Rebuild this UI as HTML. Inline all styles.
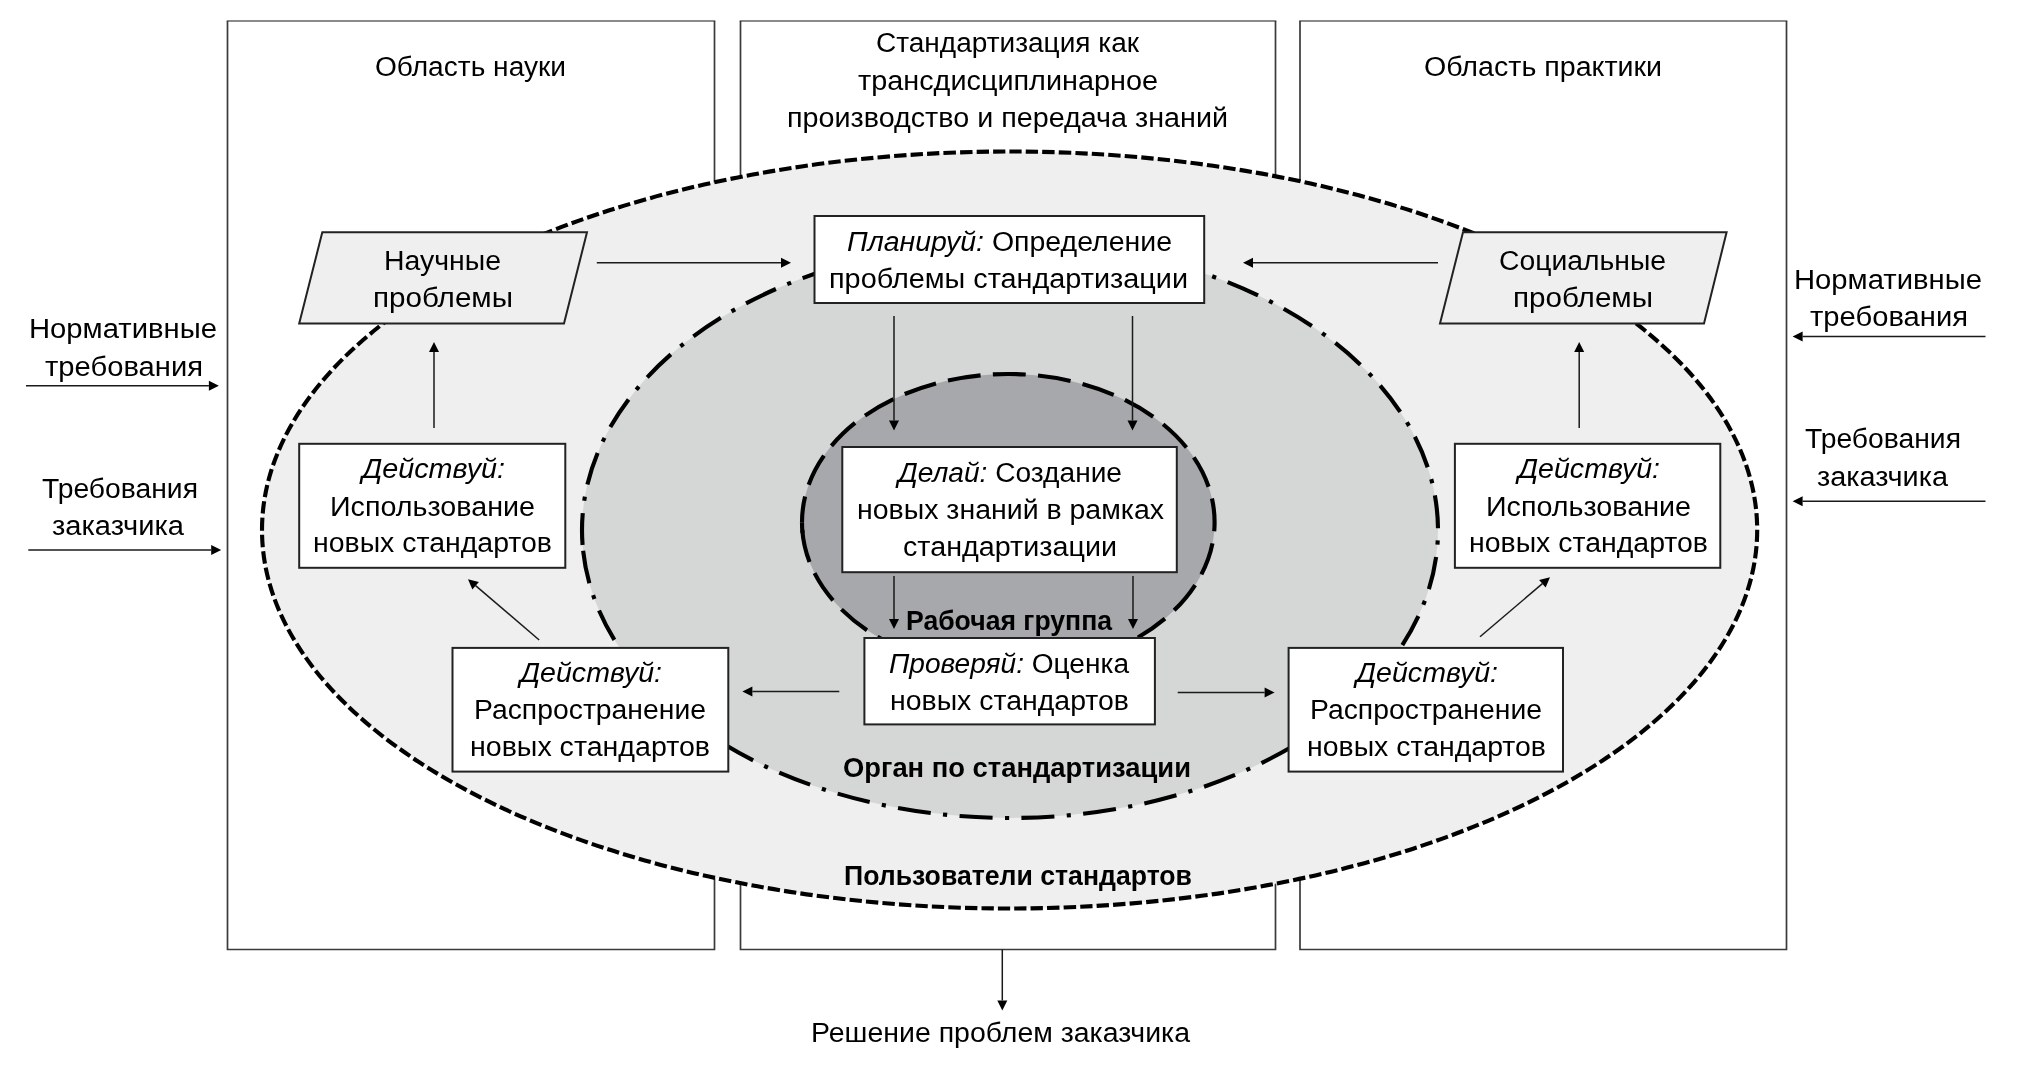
<!DOCTYPE html>
<html><head><meta charset="utf-8"><style>
html,body{margin:0;padding:0;background:#fff;}
svg{display:block;will-change:transform;}
text{font-family:"Liberation Sans",sans-serif;font-size:27px;fill:#000;}
</style></head><body>
<svg width="2017" height="1075" viewBox="0 0 2017 1075">
<rect width="2017" height="1075" fill="#fff"/>
<line x1="226.7" y1="21" x2="715.3" y2="21" stroke="#8a8a8a" stroke-width="2"/>
<path d="M227.5,21 V949.5 H714.5 V21" fill="none" stroke="#3a3a3a" stroke-width="1.7"/>
<line x1="739.7" y1="21" x2="1276.3" y2="21" stroke="#8a8a8a" stroke-width="2"/>
<path d="M740.5,21 V949.5 H1275.5 V21" fill="none" stroke="#3a3a3a" stroke-width="1.7"/>
<line x1="1299.2" y1="21" x2="1787.3" y2="21" stroke="#8a8a8a" stroke-width="2"/>
<path d="M1300,21 V949.5 H1786.5 V21" fill="none" stroke="#3a3a3a" stroke-width="1.7"/>
<path d="M262.00,530.00 A747.60,378.50 0 0 1 1757.20,530.00 A747.60,378.50 0 0 1 262.00,530.00 Z" fill="#efefef" stroke="#000" stroke-width="4.13" stroke-dasharray="12.38 4.13"/>
<path d="M582.00,530.00 A428.00,288.00 0 0 1 1438.00,530.00 A428.00,288.00 0 0 1 582.00,530.00 Z" fill="#d5d6d6"/>
<path d="M582,530 A428,288 0 0 1 1438,530 A428,288 0 0 1 582.581,545.0" fill="none" stroke="#000" stroke-width="4.13" stroke-dasharray="33.07 12.4 4.13 12.4" stroke-dashoffset="16"/>
<path d="M582.581,545.0 A428,288 0 0 1 582,530" fill="none" stroke="#000" stroke-width="4.13"/>
<path d="M802.00,522.20 A206.30,148.20 0 0 1 1214.60,522.20 A206.30,148.20 0 0 1 802.00,522.20 Z" fill="#a7a8ac" stroke="#000" stroke-width="4.13" stroke-dasharray="32.95 12.35" stroke-dashoffset="7.1"/>
<path d="M802.549,533.0 A206.3,148.2 0 0 1 802.0,522.2" fill="none" stroke="#000" stroke-width="4.13"/>
<polygon points="322.3,232.3 587,232.3 564,323.4 299.2,323.4" fill="#efefef" stroke="#222" stroke-width="2"/>
<polygon points="1463,232.3 1726.6,232.3 1704,323.4 1440,323.4" fill="#efefef" stroke="#222" stroke-width="2"/>
<rect x="814.5" y="216" width="389.70" height="87.00" fill="#fff" stroke="#222" stroke-width="2"/>
<rect x="842.3" y="447" width="334.50" height="125.20" fill="#fff" stroke="#222" stroke-width="2"/>
<rect x="864.4" y="638" width="290.50" height="86.40" fill="#fff" stroke="#222" stroke-width="2"/>
<rect x="299.2" y="443.8" width="266.10" height="124.00" fill="#fff" stroke="#222" stroke-width="2"/>
<rect x="452.5" y="647.9" width="275.80" height="123.70" fill="#fff" stroke="#222" stroke-width="2"/>
<rect x="1454.9" y="443.8" width="265.40" height="124.00" fill="#fff" stroke="#222" stroke-width="2"/>
<rect x="1288.6" y="647.9" width="274.40" height="123.70" fill="#fff" stroke="#222" stroke-width="2"/>
<line x1="596.80" y1="262.80" x2="781.00" y2="262.80" stroke="#1a1a1a" stroke-width="1.5"/><polygon points="791.00,262.80 781.00,267.80 781.00,257.80" fill="#000"/>
<line x1="1438.00" y1="262.80" x2="1253.00" y2="262.80" stroke="#1a1a1a" stroke-width="1.5"/><polygon points="1243.00,262.80 1253.00,257.80 1253.00,267.80" fill="#000"/>
<line x1="894.00" y1="316.00" x2="894.00" y2="420.40" stroke="#1a1a1a" stroke-width="1.5"/><polygon points="894.00,430.40 889.00,420.40 899.00,420.40" fill="#000"/>
<line x1="1132.50" y1="316.00" x2="1132.50" y2="420.40" stroke="#1a1a1a" stroke-width="1.5"/><polygon points="1132.50,430.40 1127.50,420.40 1137.50,420.40" fill="#000"/>
<line x1="894.00" y1="576.00" x2="894.00" y2="619.00" stroke="#1a1a1a" stroke-width="1.5"/><polygon points="894.00,629.00 889.00,619.00 899.00,619.00" fill="#000"/>
<line x1="1133.00" y1="576.00" x2="1133.00" y2="619.00" stroke="#1a1a1a" stroke-width="1.5"/><polygon points="1133.00,629.00 1128.00,619.00 1138.00,619.00" fill="#000"/>
<line x1="839.30" y1="691.50" x2="752.40" y2="691.50" stroke="#1a1a1a" stroke-width="1.5"/><polygon points="742.40,691.50 752.40,686.50 752.40,696.50" fill="#000"/>
<line x1="1177.70" y1="692.50" x2="1264.60" y2="692.50" stroke="#1a1a1a" stroke-width="1.5"/><polygon points="1274.60,692.50 1264.60,697.50 1264.60,687.50" fill="#000"/>
<line x1="539.20" y1="640.00" x2="475.60" y2="585.69" stroke="#1a1a1a" stroke-width="1.5"/><polygon points="468.00,579.20 478.85,581.89 472.36,589.50" fill="#000"/>
<line x1="434.00" y1="428.00" x2="434.00" y2="352.00" stroke="#1a1a1a" stroke-width="1.5"/><polygon points="434.00,342.00 439.00,352.00 429.00,352.00" fill="#000"/>
<line x1="1480.00" y1="636.80" x2="1542.39" y2="583.68" stroke="#1a1a1a" stroke-width="1.5"/><polygon points="1550.00,577.20 1545.63,587.49 1539.14,579.88" fill="#000"/>
<line x1="1579.20" y1="428.00" x2="1579.20" y2="352.00" stroke="#1a1a1a" stroke-width="1.5"/><polygon points="1579.20,342.00 1584.20,352.00 1574.20,352.00" fill="#000"/>
<line x1="26.00" y1="385.70" x2="208.90" y2="385.70" stroke="#1a1a1a" stroke-width="1.5"/><polygon points="218.90,385.70 208.90,390.70 208.90,380.70" fill="#000"/>
<line x1="28.30" y1="549.90" x2="211.20" y2="549.90" stroke="#1a1a1a" stroke-width="1.5"/><polygon points="221.20,549.90 211.20,554.90 211.20,544.90" fill="#000"/>
<line x1="1985.50" y1="336.40" x2="1802.60" y2="336.40" stroke="#1a1a1a" stroke-width="1.5"/><polygon points="1792.60,336.40 1802.60,331.40 1802.60,341.40" fill="#000"/>
<line x1="1985.50" y1="501.30" x2="1802.60" y2="501.30" stroke="#1a1a1a" stroke-width="1.5"/><polygon points="1792.60,501.30 1802.60,496.30 1802.60,506.30" fill="#000"/>
<line x1="1002.30" y1="949.50" x2="1002.30" y2="1000.40" stroke="#1a1a1a" stroke-width="1.5"/><polygon points="1002.30,1010.40 997.30,1000.40 1007.30,1000.40" fill="#000"/>
<text x="375.00" y="75.70" textLength="191.00" lengthAdjust="spacingAndGlyphs"><tspan>Область науки</tspan></text>
<text x="876.00" y="52.40" textLength="263.00" lengthAdjust="spacingAndGlyphs"><tspan>Стандартизация как</tspan></text>
<text x="858.00" y="90.00" textLength="300.00" lengthAdjust="spacingAndGlyphs"><tspan>трансдисциплинарное</tspan></text>
<text x="787.00" y="127.00" textLength="441.00" lengthAdjust="spacingAndGlyphs"><tspan>производство и передача знаний</tspan></text>
<text x="1424.00" y="75.70" textLength="238.00" lengthAdjust="spacingAndGlyphs"><tspan>Область практики</tspan></text>
<text x="29.00" y="338.00" textLength="188.00" lengthAdjust="spacingAndGlyphs"><tspan>Нормативные</tspan></text>
<text x="45.00" y="375.50" textLength="158.00" lengthAdjust="spacingAndGlyphs"><tspan>требования</tspan></text>
<text x="42.00" y="498.30" textLength="156.00" lengthAdjust="spacingAndGlyphs"><tspan>Требования</tspan></text>
<text x="52.00" y="535.20" textLength="132.00" lengthAdjust="spacingAndGlyphs"><tspan>заказчика</tspan></text>
<text x="1794.00" y="289.00" textLength="188.00" lengthAdjust="spacingAndGlyphs"><tspan>Нормативные</tspan></text>
<text x="1810.00" y="326.10" textLength="158.00" lengthAdjust="spacingAndGlyphs"><tspan>требования</tspan></text>
<text x="1805.00" y="448.40" textLength="156.00" lengthAdjust="spacingAndGlyphs"><tspan>Требования</tspan></text>
<text x="1817.00" y="485.50" textLength="131.00" lengthAdjust="spacingAndGlyphs"><tspan>заказчика</tspan></text>
<text x="384.00" y="269.70" textLength="117.00" lengthAdjust="spacingAndGlyphs"><tspan>Научные</tspan></text>
<text x="373.00" y="306.50" textLength="140.00" lengthAdjust="spacingAndGlyphs"><tspan>проблемы</tspan></text>
<text x="1499.00" y="269.70" textLength="167.00" lengthAdjust="spacingAndGlyphs"><tspan>Социальные</tspan></text>
<text x="1513.00" y="306.50" textLength="140.00" lengthAdjust="spacingAndGlyphs"><tspan>проблемы</tspan></text>
<text x="847.00" y="250.80" textLength="325.00" lengthAdjust="spacingAndGlyphs"><tspan font-style="italic">Планируй:</tspan><tspan> Определение</tspan></text>
<text x="829.00" y="287.80" textLength="359.00" lengthAdjust="spacingAndGlyphs"><tspan>проблемы стандартизации</tspan></text>
<text x="898.00" y="482.10" textLength="224.00" lengthAdjust="spacingAndGlyphs"><tspan font-style="italic">Делай:</tspan><tspan> Создание</tspan></text>
<text x="857.00" y="519.00" textLength="307.00" lengthAdjust="spacingAndGlyphs"><tspan>новых знаний в рамках</tspan></text>
<text x="903.00" y="556.30" textLength="214.00" lengthAdjust="spacingAndGlyphs"><tspan>стандартизации</tspan></text>
<text x="906.00" y="630.00" textLength="206.00" lengthAdjust="spacingAndGlyphs" style="font-weight:bold;font-size:28.5px"><tspan>Рабочая группа</tspan></text>
<text x="889.00" y="672.50" textLength="240.00" lengthAdjust="spacingAndGlyphs"><tspan font-style="italic">Проверяй:</tspan><tspan> Оценка</tspan></text>
<text x="890.00" y="709.90" textLength="239.00" lengthAdjust="spacingAndGlyphs"><tspan>новых стандартов</tspan></text>
<text x="362.00" y="478.20" textLength="143.00" lengthAdjust="spacingAndGlyphs"><tspan font-style="italic">Действуй:</tspan></text>
<text x="330.00" y="515.50" textLength="205.00" lengthAdjust="spacingAndGlyphs"><tspan>Использование</tspan></text>
<text x="313.00" y="552.30" textLength="239.00" lengthAdjust="spacingAndGlyphs"><tspan>новых стандартов</tspan></text>
<text x="1518.00" y="478.20" textLength="142.00" lengthAdjust="spacingAndGlyphs"><tspan font-style="italic">Действуй:</tspan></text>
<text x="1486.00" y="515.50" textLength="205.00" lengthAdjust="spacingAndGlyphs"><tspan>Использование</tspan></text>
<text x="1469.00" y="552.30" textLength="239.00" lengthAdjust="spacingAndGlyphs"><tspan>новых стандартов</tspan></text>
<text x="520.00" y="682.10" textLength="142.00" lengthAdjust="spacingAndGlyphs"><tspan font-style="italic">Действуй:</tspan></text>
<text x="474.00" y="719.40" textLength="232.00" lengthAdjust="spacingAndGlyphs"><tspan>Распространение</tspan></text>
<text x="470.00" y="756.30" textLength="240.00" lengthAdjust="spacingAndGlyphs"><tspan>новых стандартов</tspan></text>
<text x="1356.00" y="682.10" textLength="142.00" lengthAdjust="spacingAndGlyphs"><tspan font-style="italic">Действуй:</tspan></text>
<text x="1310.00" y="719.40" textLength="232.00" lengthAdjust="spacingAndGlyphs"><tspan>Распространение</tspan></text>
<text x="1307.00" y="756.30" textLength="239.00" lengthAdjust="spacingAndGlyphs"><tspan>новых стандартов</tspan></text>
<text x="843.00" y="777.40" textLength="348.00" lengthAdjust="spacingAndGlyphs" style="font-weight:bold;font-size:28.5px"><tspan>Орган по стандартизации</tspan></text>
<text x="844.00" y="884.80" textLength="348.00" lengthAdjust="spacingAndGlyphs" style="font-weight:bold;font-size:28.5px"><tspan>Пользователи стандартов</tspan></text>
<text x="811.00" y="1041.90" textLength="379.00" lengthAdjust="spacingAndGlyphs"><tspan>Решение проблем заказчика</tspan></text>
</svg></body></html>
